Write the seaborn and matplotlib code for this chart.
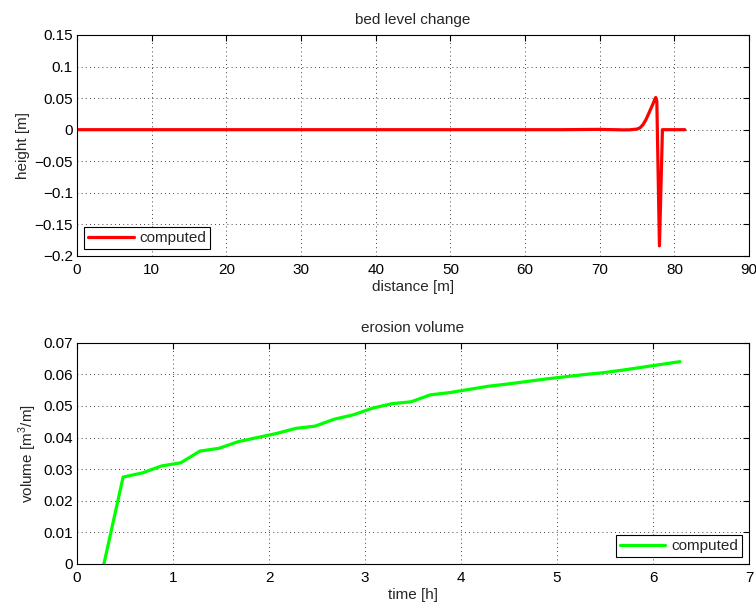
import numpy as np
import pandas as pd
import seaborn as sns
import matplotlib
matplotlib.use('Agg')
import matplotlib.pyplot as plt

# bed level change along the flume
distance = [0, 10, 20, 30, 40, 50, 60, 65, 68, 70, 71, 72, 73, 74, 75, 75.4,
            75.8, 76.2, 76.5, 76.8, 77.1, 77.35, 77.5, 77.65, 78.0, 78.4, 79.5, 81.4]
height = [0, 0, 0, 0, 0, 0, 0, 0, 0.0003, 0.0005, 0.0002, 0.0, -0.0003, -0.0002, 0.001, 0.003,
          0.008, 0.016, 0.024, 0.032, 0.040, 0.047, 0.051, 0.045, -0.184, 0.0, 0.0, 0.0]

# erosion volume over time
time_h = [0.28, 0.48, 0.68, 0.88, 1.08, 1.28, 1.48, 1.68, 1.88, 2.08, 2.28, 2.48, 2.68,
          2.88, 3.08, 3.28, 3.48, 3.68, 3.88, 4.08, 4.28, 4.48, 4.68, 4.88, 5.08, 5.28,
          5.48, 5.68, 5.88, 6.08, 6.28]
volume = [0.0, 0.0275, 0.0288, 0.0310, 0.0320, 0.0357, 0.0366, 0.0387, 0.0400, 0.0413,
          0.0429, 0.0436, 0.0458, 0.0472, 0.0493, 0.0507, 0.0513, 0.0535, 0.0542, 0.0552,
          0.0562, 0.0569, 0.0577, 0.0585, 0.0592, 0.0599, 0.0605, 0.0613, 0.0622, 0.0631,
          0.0640]

sns.set_style('white')
plt.rcParams['font.family'] = ['Liberation Sans', 'DejaVu Sans']
plt.rcParams['font.size'] = 11
plt.rcParams['mathtext.fontset'] = 'custom'
plt.rcParams['mathtext.rm'] = 'Liberation Sans'

bed = pd.DataFrame({'distance': distance, 'height': height})
ero = pd.DataFrame({'time': time_h, 'volume': volume})

fig = plt.figure(figsize=(7.56, 6.05), dpi=100)
ax1 = fig.add_axes([0.1019, 0.5769, 0.8889, 0.3653])
ax2 = fig.add_axes([0.1019, 0.0678, 0.8889, 0.3658])


def matlab_axes(ax):
    ax.grid(True, color='black', linestyle=(0, (1, 4)), linewidth=0.6)
    ax.tick_params(direction='in', top=True, right=True, length=4, width=0.8,
                   colors='black', labelsize=11)
    ax.tick_params(axis='x', pad=5)
    ax.tick_params(axis='y', pad=3)
    for s in ax.spines.values():
        s.set_color('black')
        s.set_linewidth(0.8)


def matlab_legend(ax, loc):
    leg = ax.legend(loc=loc, fancybox=False, edgecolor='black', framealpha=1,
                    handlelength=3.0, handletextpad=0.4, borderpad=0.25,
                    borderaxespad=0.45, fontsize=11)
    leg.get_frame().set_linewidth(0.8)


sns.lineplot(data=bed, x='distance', y='height', ax=ax1, color='#ff0000',
             linewidth=2.3, label='computed', sort=False)
ax1.set_xlim(0, 90)
ax1.set_ylim(-0.2, 0.15)
ax1.set_xticks(range(0, 91, 10))
ax1.set_yticks([-0.2, -0.15, -0.1, -0.05, 0, 0.05, 0.1, 0.15])
ax1.set_yticklabels(['\u22120.2', '\u22120.15', '\u22120.1', '\u22120.05', '0', '0.05', '0.1', '0.15'])
ax1.set_xlabel('distance [m]', labelpad=2)
ax1.set_ylabel('height [m]', labelpad=3)
ax1.set_title('bed level change', fontsize=11, pad=8)
matlab_axes(ax1)
matlab_legend(ax1, 'lower left')

sns.lineplot(data=ero, x='time', y='volume', ax=ax2, color='#00ff00',
             linewidth=2.3, label='computed', sort=False)
ax2.set_xlim(0, 7)
ax2.set_ylim(0, 0.07)
ax2.set_xticks(range(0, 8))
ax2.set_yticks([0, 0.01, 0.02, 0.03, 0.04, 0.05, 0.06, 0.07])
ax2.set_yticklabels(['0', '0.01', '0.02', '0.03', '0.04', '0.05', '0.06', '0.07'])
ax2.set_xlabel('time [h]', labelpad=2)
ax2.set_ylabel('volume [m$^3$/m]', labelpad=3)
ax2.set_title('erosion volume', fontsize=11, pad=8)
matlab_axes(ax2)
matlab_legend(ax2, 'lower right')

fig.savefig('out.png', dpi=100)
